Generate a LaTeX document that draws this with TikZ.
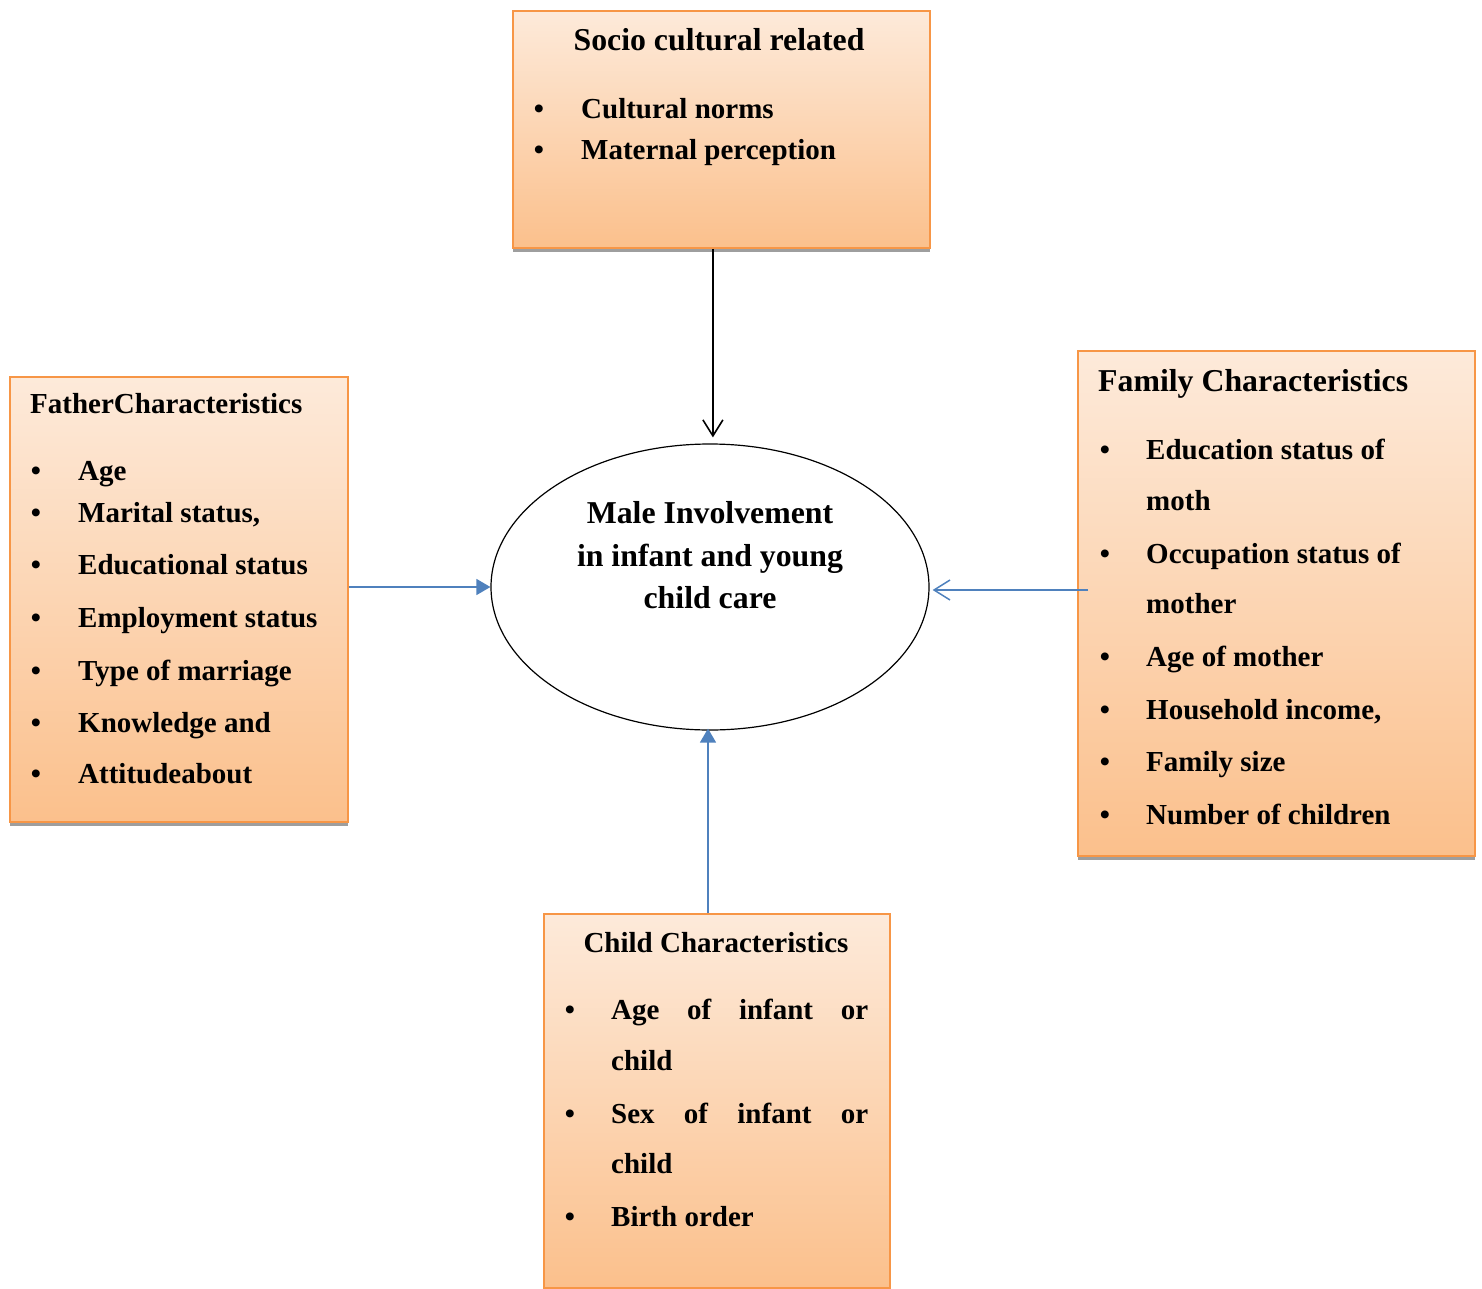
\documentclass[tikz,border=0pt]{standalone}
\usepackage{fontspec}
\setmainfont{Liberation Serif}
\usetikzlibrary{shapes.geometric,arrows.meta,shadows}
\definecolor{boxline}{HTML}{F79646}
\definecolor{gradtop}{HTML}{FDEADA}
\definecolor{gradbot}{HTML}{FBC08C}
\definecolor{arrowblue}{HTML}{4F81BD}
\begin{document}
\begin{tikzpicture}[x=1pt,y=-1pt,
  every node/.style={font=\fontsize{29}{34}\selectfont\bfseries},
  bigfont/.style={font=\fontsize{31.8}{36}\selectfont\bfseries},
  factorbox/.style={rectangle, draw=boxline, line width=1.8pt, top color=gradtop, bottom color=gradbot,
    inner sep=0pt, anchor=north west,
    drop shadow={shadow xshift=0pt, shadow yshift=-4pt, fill=black!38, opacity=1}},
  txt/.style={anchor=base west, inner sep=0pt},
  ctxt/.style={anchor=base, inner sep=0pt},
  bul/.style={anchor=base, inner sep=0pt},
  blackarrow/.style={draw=black, line width=1.6pt, -{Straight Barb[length=16pt,width=20pt]}},
  bluefilled/.style={draw=arrowblue, line width=1.5pt, -{Triangle[length=14pt,width=16pt]}},
  blueopen/.style={draw=arrowblue, line width=1.5pt, -{Straight Barb[length=16pt,width=20pt]}}
]
\useasboundingbox (0,0) rectangle (1482,1289);

% boxes
\node[factorbox, minimum width=417pt, minimum height=237pt] (socio) at (512,10) {};
\node[factorbox, minimum width=338pt, minimum height=445pt] (father) at (9,376) {};
\node[factorbox, minimum width=397pt, minimum height=505pt] (family) at (1077,350) {};
\node[factorbox, minimum width=346pt, minimum height=374pt] (child) at (543,913) {};

% central ellipse
\node[ellipse, draw=black, line width=1.2pt, fill=white, minimum width=438pt, minimum height=286pt, inner sep=0pt] (ell) at (710,587) {};

% socio text
\node[ctxt, bigfont] (s0) at (719,51) {Socio cultural related};
\node[bul] (sb1) at (539,119) {\textbullet};
\node[txt] (s1) at (581,119) {Cultural norms};
\node[bul] (sb2) at (539,160) {\textbullet};
\node[txt] (s2) at (581,160) {Maternal perception};

% father text
\node[txt] (f0) at (30,413) {FatherCharacteristics};
\node[bul] (fb1) at (36,480) {\textbullet};
\node[txt] (f1) at (78,480) {Age};
\node[bul] (fb2) at (36,522) {\textbullet};
\node[txt] (f2) at (78,522) {Marital status,};
\node[bul] (fb3) at (36,574) {\textbullet};
\node[txt] (f3) at (78,574) {Educational status};
\node[bul] (fb4) at (36,627) {\textbullet};
\node[txt] (f4) at (78,627) {Employment status};
\node[bul] (fb5) at (36,680) {\textbullet};
\node[txt] (f5) at (78,680) {Type of marriage};
\node[bul] (fb6) at (36,732) {\textbullet};
\node[txt] (f6) at (78,732) {Knowledge and};
\node[bul] (fb7) at (36,783) {\textbullet};
\node[txt] (f7) at (78,783) {Attitudeabout};

% family text
\node[txt, bigfont] (m0) at (1098,391) {Family Characteristics};
\node[bul] (mb1) at (1105,459) {\textbullet};
\node[txt] (m1) at (1146,459) {Education status of};
\node[txt] (m1b) at (1146,510) {moth};
\node[bul] (mb2) at (1105,563) {\textbullet};
\node[txt] (m2) at (1146,563) {Occupation status of};
\node[txt] (m2b) at (1146,613) {mother};
\node[bul] (mb3) at (1105,666) {\textbullet};
\node[txt] (m3) at (1146,666) {Age of mother};
\node[bul] (mb4) at (1105,719) {\textbullet};
\node[txt] (m4) at (1146,719) {Household income,};
\node[bul] (mb5) at (1105,771) {\textbullet};
\node[txt] (m5) at (1146,771) {Family size};
\node[bul] (mb6) at (1105,824) {\textbullet};
\node[txt] (m6) at (1146,824) {Number of children};

% child text
\node[ctxt] (c0) at (716,952) {Child Characteristics};
\node[bul] (cb1) at (570,1019) {\textbullet};
\node[txt] (c1) at (611,1019) {\makebox[257pt][s]{Age\hfill of\hfill infant\hfill or}};
\node[txt] (c1b) at (611,1070) {child};
\node[bul] (cb2) at (570,1123) {\textbullet};
\node[txt] (c2) at (611,1123) {\makebox[257pt][s]{Sex\hfill of\hfill infant\hfill or}};
\node[txt] (c2b) at (611,1173) {child};
\node[bul] (cb3) at (570,1226) {\textbullet};
\node[txt] (c3) at (611,1226) {Birth order};

% ellipse text
\node[ctxt, bigfont] (e1) at (710,523) {Male Involvement};
\node[ctxt, bigfont] (e2) at (710,566) {in infant and young};
\node[ctxt, bigfont] (e3) at (710,608) {child care};

% connectors
\coordinate (sociofoot) at ([xshift=-8.5pt]socio.south);
\coordinate (rightstart) at ([xshift=11pt, yshift=-3pt]family.west |- ell.east);
\coordinate (childtop) at ([xshift=-2pt]child.north -| ell.south);
\draw[blackarrow, shorten >=6pt] (sociofoot) -- (sociofoot |- ell.north);
\draw[bluefilled] (father.east |- ell.west) -- (ell.west);
\draw[blueopen, shorten >=3pt] (rightstart) -- (rightstart -| ell.east);
\draw[bluefilled, shorten >=-2pt] (childtop) -- (childtop |- ell.south);
\end{tikzpicture}
\end{document}
